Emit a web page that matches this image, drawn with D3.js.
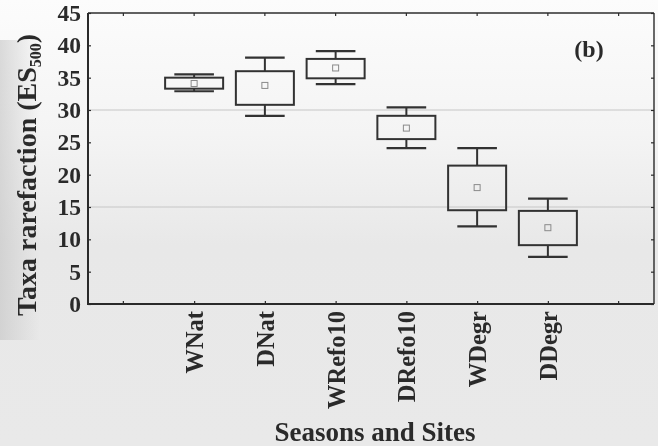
<!DOCTYPE html>
<html>
<head>
<meta charset="utf-8">
<title>Taxa rarefaction - boxplot</title>
<script src="https://cdn.jsdelivr.net/npm/d3@7"></script>
<style>
    html, body { margin: 0; padding: 0; background: #ececec; }
    #chart svg { display: block; font-family: "Liberation Serif", "Times New Roman", serif; font-weight: bold; }
</style>
</head>
<body>
<div id="chart"></div>
<script>
    // values
    var categories  = ["WNat", "DNat", "WRefo10", "DRefo10", "WDegr", "DDegr"];
    var whiskerLow  = [32.9, 29.1, 34.0, 24.1, 12.0, 7.3];
    var boxLow      = [33.3, 30.8, 34.9, 25.5, 14.5, 9.1];
    var means       = [34.1, 33.8, 36.5, 27.2, 18.0, 11.8];
    var boxHigh     = [35.0, 36.0, 37.9, 29.1, 21.4, 14.4];
    var whiskerHigh = [35.5, 38.1, 39.1, 30.4, 24.1, 16.3];
    var yTicks = [0, 5, 10, 15, 20, 25, 30, 35, 40, 45];
    var gridValues = [30, 15];

    var width = 658, height = 446;
    // plot edges (note: "top" is taken by window.top)
    var plotL = 88, plotR = 654, plotT = 13, plotB = 304;
    var ink = "#2b2b2b";

    var svg = d3.select("#chart").append("svg")
        .attr("width", width)
        .attr("height", height);

    // paper background, a bit like the photographed page
    var defs = svg.append("defs");
    var bg = defs.append("linearGradient").attr("id", "paper")
        .attr("x1", 0).attr("y1", 0).attr("x2", 0).attr("y2", 1);
    bg.append("stop").attr("offset", "0").attr("stop-color", "#fcfcfc");
    bg.append("stop").attr("offset", "0.3").attr("stop-color", "#f4f4f4");
    bg.append("stop").attr("offset", "0.55").attr("stop-color", "#e8e8e8");
    bg.append("stop").attr("offset", "1").attr("stop-color", "#e9e9e9");
    var shade = defs.append("linearGradient").attr("id", "shade")
        .attr("x1", 0).attr("y1", 0).attr("x2", 1).attr("y2", 0);
    shade.append("stop").attr("offset", "0").attr("stop-color", "#c4c4c4").attr("stop-opacity", 0.6);
    shade.append("stop").attr("offset", "1").attr("stop-color", "#c4c4c4").attr("stop-opacity", 0);
    defs.append("filter").attr("id", "soft")
        .append("feGaussianBlur").attr("stdDeviation", 0.45);

    svg.append("rect").attr("width", width).attr("height", height).attr("fill", "url(#paper)");
    svg.append("rect").attr("y", 40).attr("width", 40).attr("height", 300).attr("fill", "url(#shade)");

    var g = svg.append("g").attr("filter", "url(#soft)");

    var x = d3.scalePoint()
        .domain(categories)
        .range([plotL, plotR])
        .padding(1.5);
    var step = x.step();
    var xTickPos = [x(categories[0]) - step].concat(categories.map(function (c) { return x(c); }))
        .concat([x(categories[categories.length - 1]) + step]);

    var y = d3.scaleLinear()
        .domain([0, 45])
        .range([plotB, plotT]);

    // grid
    g.selectAll("line.grid").data(gridValues).enter()
        .append("line")
        .attr("class", "grid")
        .attr("x1", plotL).attr("x2", plotR)
        .attr("y1", function (d) { return y(d); })
        .attr("y2", function (d) { return y(d); })
        .attr("stroke", "#c6c6c6")
        .attr("stroke-width", 1);

    // left axis
    var yAxis = g.append("g")
        .attr("transform", "translate(" + plotL + ",0)")
        .call(d3.axisLeft(y).tickValues(yTicks).tickSize(-3).tickPadding(7));
    yAxis.select(".domain").remove();
    yAxis.selectAll("line").attr("stroke", ink).attr("stroke-width", 1.2);
    yAxis.selectAll("text")
        .attr("font-size", 23.5)
        .attr("font-family", "Liberation Serif, serif")
        .attr("font-weight", "bold")
        .attr("fill", ink);

    // right axis, ticks only
    var yAxisR = g.append("g")
        .attr("transform", "translate(" + plotR + ",0)")
        .call(d3.axisRight(y).tickValues(yTicks).tickSize(-3).tickFormat(""));
    yAxisR.select(".domain").remove();
    yAxisR.selectAll("line").attr("stroke", ink).attr("stroke-width", 1.2);

    // bottom axis
    var xAxis = g.append("g")
        .attr("transform", "translate(0," + plotB + ")")
        .call(d3.axisBottom(x).tickSize(-3));
    xAxis.select(".domain").remove();
    xAxis.selectAll("line").attr("stroke", ink).attr("stroke-width", 1.2);
    xAxis.selectAll("text")
        .attr("transform", "rotate(-90)")
        .attr("text-anchor", "end")
        .attr("x", -7)
        .attr("y", 0)
        .attr("dy", "0.35em")
        .attr("font-size", 24.5)
        .attr("font-family", "Liberation Serif, serif")
        .attr("font-weight", "bold")
        .attr("fill", ink);

    // extra ticks on bottom and top edges
    g.selectAll("line.xb").data([xTickPos[0], xTickPos[xTickPos.length - 1]]).enter()
        .append("line").attr("class", "xb")
        .attr("x1", function (d) { return d; }).attr("x2", function (d) { return d; })
        .attr("y1", plotB).attr("y2", plotB - 3)
        .attr("stroke", ink).attr("stroke-width", 1.2);
    g.selectAll("line.xt").data(xTickPos).enter()
        .append("line").attr("class", "xt")
        .attr("x1", function (d) { return d; }).attr("x2", function (d) { return d; })
        .attr("y1", plotT).attr("y2", plotT + 3)
        .attr("stroke", ink).attr("stroke-width", 1.2);

    // frame
    g.append("line").attr("x1", plotL).attr("x2", plotR).attr("y1", plotT).attr("y2", plotT)
        .attr("stroke", ink).attr("stroke-width", 1.4);
    g.append("line").attr("x1", plotR).attr("x2", plotR).attr("y1", plotT).attr("y2", plotB)
        .attr("stroke", ink).attr("stroke-width", 1.4);
    g.append("line").attr("x1", plotL).attr("x2", plotL).attr("y1", plotT).attr("y2", plotB + 1)
        .attr("stroke", ink).attr("stroke-width", 2);
    g.append("line").attr("x1", plotL).attr("x2", plotR).attr("y1", plotB).attr("y2", plotB)
        .attr("stroke", ink).attr("stroke-width", 2);

    // boxes
    var boxW = step * 0.82, capW = step * 0.56;
    var boxes = g.selectAll("g.box").data(categories).enter()
        .append("g").attr("class", "box");

    boxes.append("line")
        .attr("x1", function (d) { return x(d); }).attr("x2", function (d) { return x(d); })
        .attr("y1", function (d, i) { return y(whiskerHigh[i]); })
        .attr("y2", function (d, i) { return y(boxHigh[i]); })
        .attr("stroke", "#333").attr("stroke-width", 2);
    boxes.append("line")
        .attr("x1", function (d) { return x(d); }).attr("x2", function (d) { return x(d); })
        .attr("y1", function (d, i) { return y(boxLow[i]); })
        .attr("y2", function (d, i) { return y(whiskerLow[i]); })
        .attr("stroke", "#333").attr("stroke-width", 2);
    boxes.append("line")
        .attr("x1", function (d) { return x(d) - capW / 2; }).attr("x2", function (d) { return x(d) + capW / 2; })
        .attr("y1", function (d, i) { return y(whiskerHigh[i]); })
        .attr("y2", function (d, i) { return y(whiskerHigh[i]); })
        .attr("stroke", "#333").attr("stroke-width", 2.2);
    boxes.append("line")
        .attr("x1", function (d) { return x(d) - capW / 2; }).attr("x2", function (d) { return x(d) + capW / 2; })
        .attr("y1", function (d, i) { return y(whiskerLow[i]); })
        .attr("y2", function (d, i) { return y(whiskerLow[i]); })
        .attr("stroke", "#333").attr("stroke-width", 2.2);
    boxes.append("rect")
        .attr("x", function (d) { return x(d) - boxW / 2; })
        .attr("y", function (d, i) { return y(boxHigh[i]); })
        .attr("width", boxW)
        .attr("height", function (d, i) { return y(boxLow[i]) - y(boxHigh[i]); })
        .attr("fill", "none")
        .attr("stroke", "#333").attr("stroke-width", 2);
    boxes.append("rect")
        .attr("x", function (d) { return x(d) - 3; })
        .attr("y", function (d, i) { return y(means[i]) - 3; })
        .attr("width", 6).attr("height", 6)
        .attr("fill", "none")
        .attr("stroke", "#8a8a8a").attr("stroke-width", 1);

    // titles
    var yTitle = g.append("text")
        .attr("transform", "translate(36,175) rotate(-90)")
        .attr("text-anchor", "middle")
        .attr("font-size", 28)
        .attr("fill", ink);
    yTitle.append("tspan").text("Taxa rarefaction (ES");
    yTitle.append("tspan").attr("font-size", 16).attr("dy", 5).text("500");
    yTitle.append("tspan").attr("dy", -5).text(")");

    g.append("text")
        .attr("x", 375).attr("y", 441)
        .attr("text-anchor", "middle")
        .attr("font-size", 27)
        .attr("fill", ink)
        .text("Seasons and Sites");

    g.append("text")
        .attr("x", 589).attr("y", 57)
        .attr("text-anchor", "middle")
        .attr("font-size", 24)
        .attr("fill", ink)
        .text("(b)");
</script>
</body>
</html>
